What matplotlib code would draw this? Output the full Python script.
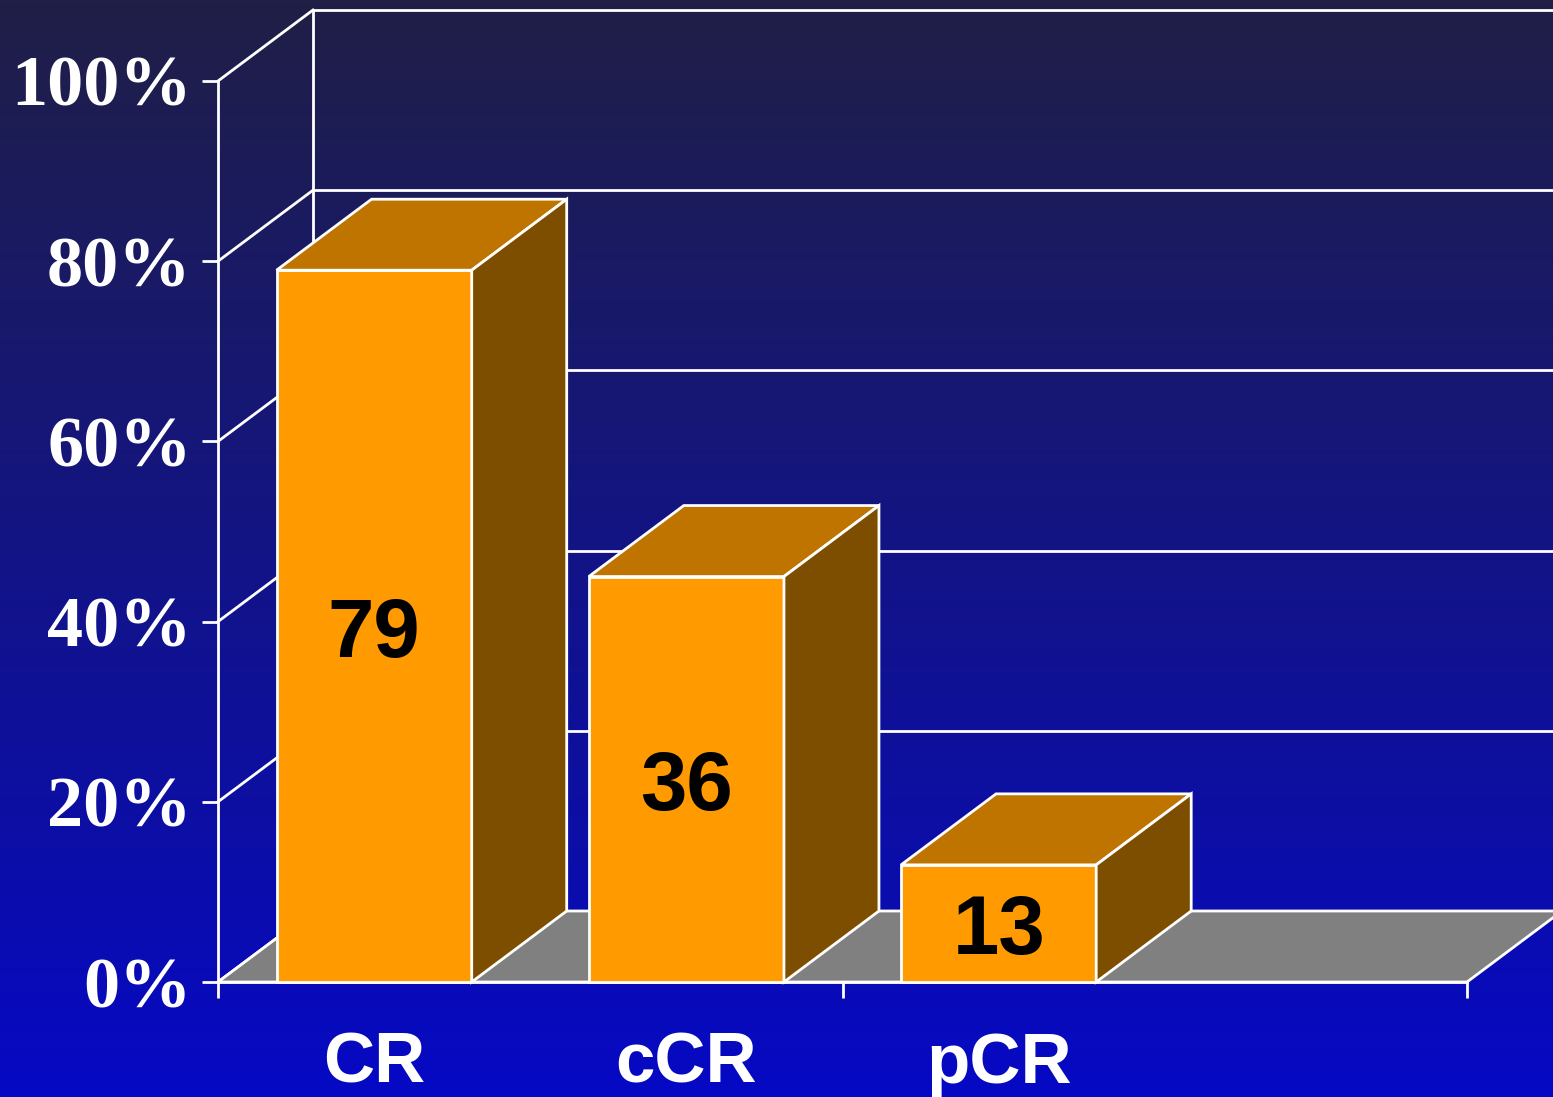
import matplotlib.pyplot as plt
import numpy as np
from matplotlib.patches import Polygon

# chart data
categories = ['CR', 'cCR', 'pCR']
bar_values = [79, 45, 13]          # heights as drawn on the slide
value_labels = ['79', '36', '13']  # numbers printed on the bars
y_ticks = [0, 20, 40, 60, 80, 100]
y_tick_labels = ['0%', '20%', '40%', '60%', '80%', '100%']
x_ticks = [0, 2, 4]

W, H = 1553, 1097
fig = plt.figure(figsize=(W / 100, H / 100), dpi=100)

# background gradient
bg = fig.add_axes([0, 0, 1, 1])
bg.axis('off')
top_col = np.array([32, 31, 70]) / 255
bot_col = np.array([6, 9, 196]) / 255
t = np.linspace(0, 1, 256)[:, None]
grad = (top_col + (bot_col - top_col) * t).reshape(256, 1, 3)
bg.imshow(grad, aspect='auto', extent=[0, 1, 0, 1])

# front plane of the chart
ax = fig.add_axes([218 / W, (H - 982) / H, (1467 - 218) / W, (982 - 81) / H])
ax.set_xlim(0, 4)
ax.set_ylim(0, 100)
ax.patch.set_visible(False)

dx = 95 / 312.25   # depth offset, x units
dy = 71 / 9.01     # depth offset, percent units
lw = 2
white = 'white'

# back wall grid + left wall diagonals
for v in y_ticks:
    ax.plot([dx, 4 + dx], [v + dy, v + dy], color=white, lw=lw, clip_on=False, zorder=1)
    ax.plot([0, dx], [v, v + dy], color=white, lw=lw, clip_on=False, zorder=1)
ax.plot([dx, dx], [dy, 100 + dy], color=white, lw=lw, clip_on=False, zorder=1)

# floor
floor = Polygon([(0, 0), (4, 0), (4 + dx, dy), (dx, dy)], closed=True,
                facecolor='#808080', edgecolor=white, lw=lw, clip_on=False, zorder=2)
ax.add_patch(floor)

# bars
bw = 0.625
for i, (v, lbl) in enumerate(zip(bar_values, value_labels)):
    x0 = i + 0.5 - bw / 2
    x1 = x0 + bw
    faces = [
        ([(x0, 0), (x1, 0), (x1, v), (x0, v)], '#ff9a00'),
        ([(x0, v), (x1, v), (x1 + dx, v + dy), (x0 + dx, v + dy)], '#c07400'),
        ([(x1, 0), (x1 + dx, dy), (x1 + dx, v + dy), (x1, v)], '#7e4e00'),
    ]
    for pts, fc in faces:
        ax.add_patch(Polygon(pts, closed=True, facecolor=fc, edgecolor=white,
                             lw=lw, joinstyle='miter', clip_on=False, zorder=3))
    ax.annotate(lbl, (i + 0.5, v / 2), xytext=(0, -22), textcoords='offset points',
                ha='center', va='baseline', fontsize=60, fontweight='bold',
                family=['Liberation Sans Narrow', 'Liberation Sans'], color='black', zorder=4)
    ax.text(i + 0.5, -11.2, categories[i], ha='center', va='baseline', fontsize=51,
            fontweight='bold', family='Liberation Sans', color=white, clip_on=False)

# axes
for s in ['top', 'right']:
    ax.spines[s].set_visible(False)
for s in ['left', 'bottom']:
    ax.spines[s].set_color(white)
    ax.spines[s].set_linewidth(lw)
ax.set_yticks(y_ticks, y_tick_labels)
for t_lbl in ax.get_yticklabels():
    t_lbl.set_fontfamily('Liberation Serif')
    t_lbl.set_fontweight('bold')
ax.tick_params(axis='y', colors=white, length=11.5, width=lw, pad=7.5, labelsize=52)
ax.set_xticks(x_ticks, ['', '', ''])
ax.tick_params(axis='x', colors=white, length=11.5, width=lw)

fig.savefig('out.png', dpi=100)
